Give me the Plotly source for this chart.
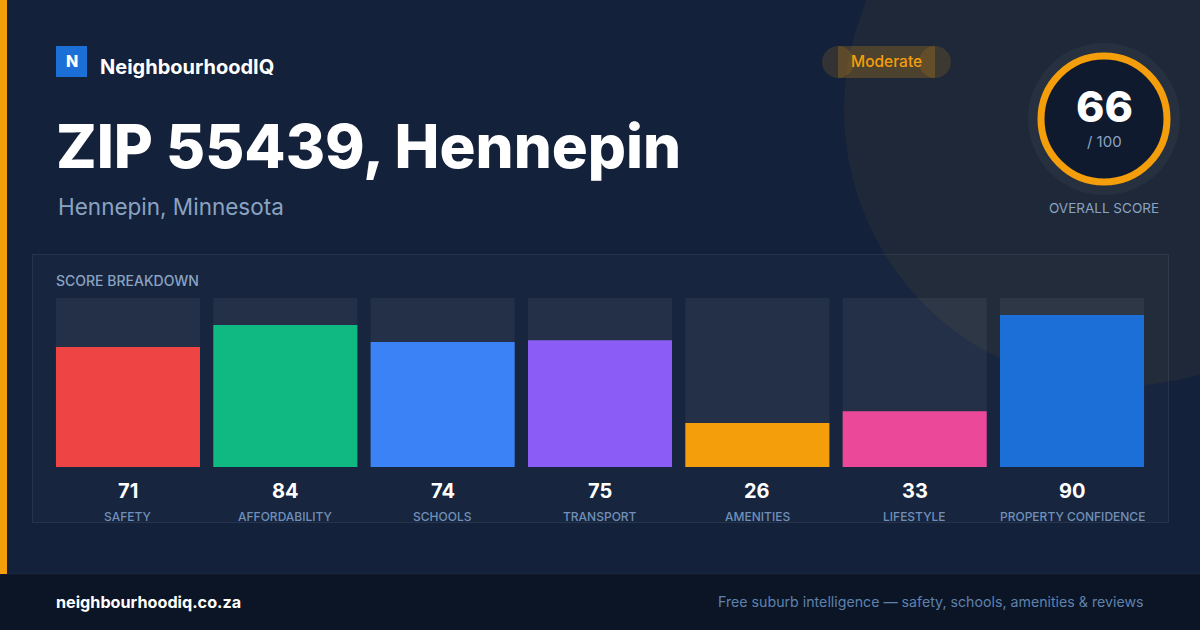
import plotly.graph_objects as go

W, H = 1200, 630

categories = ["SAFETY", "AFFORDABILITY", "SCHOOLS", "TRANSPORT", "AMENITIES", "LIFESTYLE", "PROPERTY CONFIDENCE"]
scores = [71, 84, 74, 75, 26, 33, 90]
bar_colors = ["#ef4444", "#10b981", "#3b82f6", "#8b5cf6", "#f59e0b", "#ec4899", "#1d6fd8"]
max_score = [100] * len(categories)

overall_score = 66
overall_label = "Moderate"
brand = "NeighbourhoodIQ"
title = "ZIP 55439, Hennepin"
subtitle = "Hennepin, Minnesota"
footer_left = "neighbourhoodiq.co.za"
footer_right = "Free suburb intelligence — safety, schools, amenities & reviews"

FONT = "Inter"
BG = "#13213b"
MUTED = "#8aa3c2"


def px(x):
    return x / W


def py(y):
    return 1 - y / H


fig = go.Figure()

# track bars
fig.add_trace(go.Bar(
    x=categories, y=max_score, width=0.9155,
    marker=dict(color="rgba(255,255,255,0.055)", line=dict(width=0)),
    hoverinfo="skip", showlegend=False,
))
# score bars
fig.add_trace(go.Bar(
    x=categories, y=scores, width=0.9155,
    marker=dict(color=bar_colors, line=dict(width=0)),
    showlegend=False,
))

shapes = []
# big decorative circle
cx, cy, r = 1120, 110, 276
shapes.append(dict(type="circle", xref="paper", yref="paper",
                   x0=px(cx - r), x1=px(cx + r), y0=py(cy + r), y1=py(cy - r),
                   fillcolor="rgba(245,158,11,0.055)", line=dict(width=0), layer="below"))
# left accent bar
shapes.append(dict(type="rect", xref="paper", yref="paper",
                   x0=0, x1=px(7), y0=py(574), y1=1,
                   fillcolor="#f59e0b", line=dict(width=0), layer="below"))
# footer
shapes.append(dict(type="rect", xref="paper", yref="paper",
                   x0=0, x1=1, y0=0, y1=py(574),
                   fillcolor="#0b1526", line=dict(width=0), layer="below"))
shapes.append(dict(type="line", xref="paper", yref="paper",
                   x0=0, x1=1, y0=py(574), y1=py(574),
                   line=dict(color="rgba(255,255,255,0.05)", width=1), layer="below"))
# logo square
shapes.append(dict(type="rect", xref="paper", yref="paper",
                   x0=px(56), x1=px(87), y0=py(77), y1=py(46),
                   fillcolor="#1d6fd8", line=dict(width=0), layer="below"))
# moderate pill
shapes.append(dict(type="circle", xref="paper", yref="paper",
                   x0=px(822), x1=px(854), y0=py(78), y1=py(46),
                   fillcolor="rgba(245,158,11,0.14)", line=dict(width=0), layer="below"))
shapes.append(dict(type="circle", xref="paper", yref="paper",
                   x0=px(919), x1=px(951), y0=py(78), y1=py(46),
                   fillcolor="rgba(245,158,11,0.14)", line=dict(width=0), layer="below"))
shapes.append(dict(type="rect", xref="paper", yref="paper",
                   x0=px(838), x1=px(935), y0=py(78), y1=py(46),
                   fillcolor="rgba(245,158,11,0.22)", line=dict(width=0), layer="below"))
# gauge
gx, gy = 1104, 119
shapes.append(dict(type="circle", xref="paper", yref="paper",
                   x0=px(gx - 76), x1=px(gx + 76), y0=py(gy + 76), y1=py(gy - 76),
                   fillcolor="rgba(255,255,255,0.04)", line=dict(width=0), layer="below"))
shapes.append(dict(type="circle", xref="paper", yref="paper",
                   x0=px(gx - 63), x1=px(gx + 63), y0=py(gy + 63), y1=py(gy - 63),
                   fillcolor="#101a2e", line=dict(color="#f59e0b", width=7), layer="below"))
# breakdown panel
shapes.append(dict(type="rect", xref="paper", yref="paper",
                   x0=px(32.5), x1=px(1168.5), y0=py(522.5), y1=py(254.5),
                   fillcolor="rgba(255,255,255,0.02)",
                   line=dict(color="rgba(255,255,255,0.08)", width=1), layer="below"))

ann = []


def text(x, y, s, size, color, xanchor="left", weight=400, family=FONT):
    ann.append(dict(x=px(x), y=py(y), xref="paper", yref="paper", text=s, showarrow=False,
                    xanchor=xanchor, yanchor="middle",
                    font=dict(family=family, size=size, color=color, weight=weight)))


text(71.5, 61.5, "N", 16, "#ffffff", "center", 800)
text(98, 67, brand, 20, "#ffffff", "left", 700)
text(54, 146, title, 60, "#ffffff", "left", 800)
text(56, 207, subtitle, 22.5, MUTED, "left", 400)
text(886.5, 62, overall_label, 15.5, "#f59e0b", "center", 500)
text(gx, 106, str(overall_score), 43, "#ffffff", "center", 800)
text(gx, 142, "/ 100", 15, MUTED, "center", 400)
text(gx, 208, "OVERALL SCORE", 13.5, MUTED, "center", 400)
text(54, 280, "SCORE BREAKDOWN", 14, MUTED, "left", 500)
text(54, 602, footer_left, 16.2, "#ffffff", "left", 700)
text(1146, 602, footer_right, 14.2, "#5f82ad", "right", 400)

for c, v in zip(categories, scores):
    ann.append(dict(x=c, y=py(491), xref="x", yref="paper", text=str(v), showarrow=False,
                    xanchor="center", yanchor="middle",
                    font=dict(family=FONT, size=20, color="#ffffff", weight=700)))
    ann.append(dict(x=c, y=py(516), xref="x", yref="paper", text=c, showarrow=False,
                    xanchor="center", yanchor="middle",
                    font=dict(family=FONT, size=12, color="#7190b8", weight=500)))

fig.update_layout(
    width=W, height=H,
    margin=dict(l=0, r=0, t=0, b=0),
    paper_bgcolor=BG, plot_bgcolor="rgba(0,0,0,0)",
    barmode="overlay",
    shapes=shapes, annotations=ann,
    xaxis=dict(domain=[px(49.3), px(1150.7)], range=[-0.5, 6.5], visible=False, fixedrange=True),
    yaxis=dict(domain=[py(467), py(298)], range=[0, 100], visible=False, fixedrange=True),
    showlegend=False,
)

fig.write_html("out.html", config={"displayModeBar": False},
               post_script="document.body.style.margin='0';document.body.style.overflow='hidden';")
